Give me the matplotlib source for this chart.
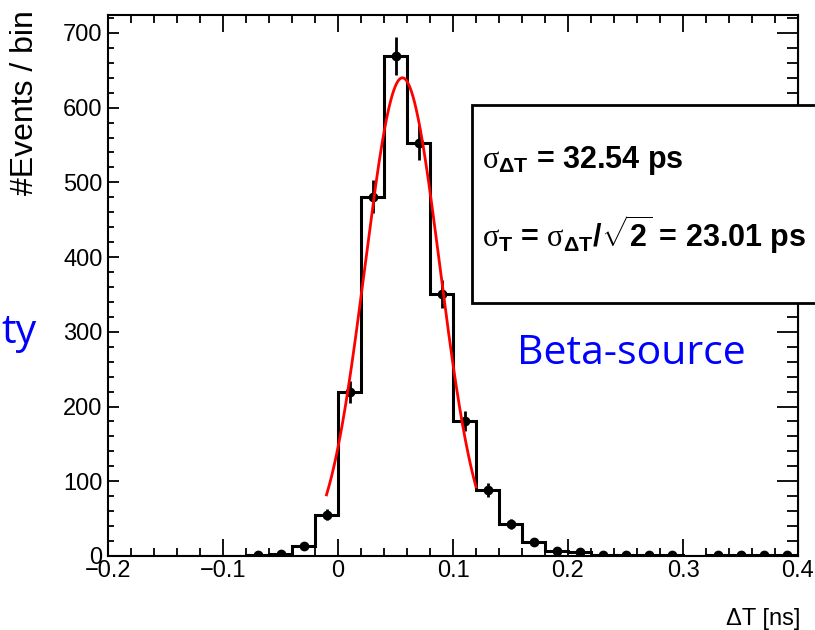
import numpy as np
import matplotlib
matplotlib.use("Agg")
import matplotlib.pyplot as plt
from matplotlib.ticker import MultipleLocator
from matplotlib.patches import Rectangle

# ---- data ----
bin_edges = np.round(np.arange(-0.2, 0.4001, 0.02), 3)
counts = np.array([0, 0, 0, 0, 0, 0, 1, 3, 13, 55, 220, 481, 669, 553, 351,
                   181, 88, 43, 19, 7, 5, 2, 1, 1, 1, 0, 1, 1, 1, 1])
fit_mean = 0.056
fit_sigma = 0.03254
fit_amp = 640
fit_range = (-0.01, 0.12)
x_label = "ΔT [ns]"
y_label = "#Events / bin"
box_line1 = r"$\sigma_{\mathrm{\Delta T}}$ = 32.54 ps"
box_line2 = r"$\sigma_{\mathrm{T}}$ = $\sigma_{\mathrm{\Delta T}}$/$\sqrt{\mathrm{2}}$ = 23.01 ps"

plt.rcParams["font.family"] = ["Liberation Sans", "DejaVu Sans"]
plt.rcParams["mathtext.fontset"] = "custom"
plt.rcParams["mathtext.rm"] = "Liberation Sans:bold"
plt.rcParams["mathtext.bf"] = "Liberation Sans:bold"
plt.rcParams["mathtext.it"] = "Liberation Serif"

W, H = 815, 630
fig = plt.figure(figsize=(W / 100, H / 100), dpi=100)
ax = fig.add_axes([108 / W, (H - 556) / H, (798 - 108) / W, (556 - 15) / H])

ax.stairs(counts, bin_edges, color="black", lw=2.2, baseline=0)
centers = 0.5 * (bin_edges[:-1] + bin_edges[1:])
nz = counts > 0
ax.errorbar(centers[nz], counts[nz], yerr=np.sqrt(counts[nz]), fmt="o",
            color="black", ms=6, elinewidth=2, capsize=0, zorder=3)

xf = np.linspace(fit_range[0], fit_range[1], 300)
yf = fit_amp * np.exp(-0.5 * ((xf - fit_mean) / fit_sigma) ** 2)
ax.plot(xf, yf, color="red", lw=2, zorder=4)

ax.set_xlim(-0.2, 0.4)
ax.set_ylim(0, 724)
ax.xaxis.set_major_locator(MultipleLocator(0.1))
ax.xaxis.set_minor_locator(MultipleLocator(0.02))
ax.yaxis.set_major_locator(MultipleLocator(100))
ax.yaxis.set_minor_locator(MultipleLocator(20))
ax.tick_params(axis="x", which="major", direction="in", top=True, length=12, width=1.3,
               labelsize=17, pad=3)
ax.tick_params(axis="x", which="minor", direction="in", top=True, length=6, width=1.3)
ax.tick_params(axis="y", which="major", direction="in", right=False, length=8, width=1.3,
               labelsize=17, pad=4)
ax.tick_params(axis="y", which="minor", direction="in", right=False, length=4, width=1.3)
ax.xaxis.set_major_formatter(matplotlib.ticker.FuncFormatter(
    lambda v, p: "0" if abs(v) < 1e-9 else f"{v:.1f}".replace("-", "\u2212")))

sec = ax.secondary_yaxis("right")
sec.yaxis.set_major_locator(MultipleLocator(100))
sec.yaxis.set_minor_locator(MultipleLocator(20))
sec.tick_params(which="major", direction="in", length=15, width=1.3, labelright=False)
sec.tick_params(which="minor", direction="in", length=8, width=1.3)

for s in ax.spines.values():
    s.set_linewidth(1.5)

fig.text(25 / W, 1 - 10 / H, y_label, rotation=90, ha="center", va="top", fontsize=23)
fig.text(800 / W, 5 / H, x_label, ha="right", va="baseline", fontsize=17)

rect = Rectangle((472 / W, (H - 303) / H), 400 / W, 198 / H, transform=fig.transFigure,
                 facecolor="white", edgecolor="black", lw=2, zorder=10, clip_on=False)
fig.add_artist(rect)
fig.text(482 / W, (H - 168) / H, box_line1, ha="left", va="baseline", fontsize=22,
         fontweight="bold", zorder=11)
fig.text(482 / W, (H - 247) / H, box_line2, ha="left", va="baseline", fontsize=22,
         fontweight="bold", zorder=11)

fig.text(631 / W, (H - 364) / H, "Beta-source", ha="center", va="baseline",
         fontsize=29.5, color="#0000FF", family=["Open Sans", "DejaVu Sans"])
fig.text(1 / W, (H - 343) / H, "ty", ha="left", va="baseline",
         fontsize=29.5, color="#0000FF", family=["Open Sans", "DejaVu Sans"])

fig.savefig("out.png", dpi=100)
